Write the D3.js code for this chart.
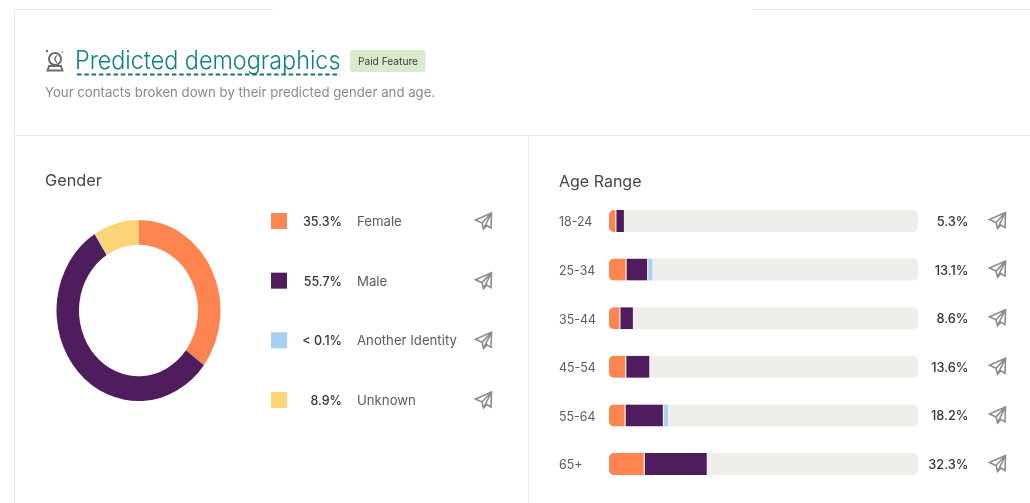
<!DOCTYPE html>
<html>
<head>
<meta charset="utf-8">
<script src="https://cdnjs.cloudflare.com/ajax/libs/d3/7.8.5/d3.min.js"></script>
<style>
  html, body { margin: 0; padding: 0; background: #fff; }
  svg { display: block; filter: blur(0.35px); }
  text { font-family: Inter, "Open Sans", sans-serif; }
</style>
</head>
<body>
<div id="chart"></div>
<script>
var genders = ["Female", "Male", "Another Identity", "Unknown"];
var genderLabels = ["35.3%", "55.7%", "< 0.1%", "8.9%"];
var genderValues = [35.3, 55.7, 0.1, 8.9];

var ages = ["18-24", "25-34", "35-44", "45-54", "55-64", "65+"];
var ageLabels = ["5.3%", "13.1%", "8.6%", "13.6%", "18.2%", "32.3%"];
var ageFemale = [2.0, 5.3, 3.3, 5.2, 5.0, 11.2];
var ageMale = [2.4, 6.6, 4.0, 7.4, 12.0, 20.0];
var ageOther = [0, 1.2, 0, 0, 1.2, 0];

var COLORS = ["#ff8450", "#4f1c5e", "#a5cff3", "#fbd477"];
var TEXT = "#4a4545";
var GRAY = "#8d8986";
var LINE = "#ebebe9";
var PLANE = "M0,-7 L-16,0 L-9.5,3 L-8,9 L-4.5,5.5 L-0.5,8 Z M0,-7 L-9.5,3 M0,-7 L-8,9";

var svg = d3.select("#chart").append("svg")
  .attr("width", 1030)
  .attr("height", 503);

// card outline
function rule(x1, y1, x2, y2) {
  svg.append("line")
    .attr("x1", x1).attr("y1", y1).attr("x2", x2).attr("y2", y2)
    .attr("stroke", LINE).attr("stroke-width", 1);
}
rule(15, 9.5, 273, 9.5);
rule(752, 9.5, 1030, 9.5);
rule(14.5, 9, 14.5, 503);
rule(15, 135.5, 1030, 135.5);
rule(528.5, 135, 528.5, 503);

// header
var icon = svg.append("g")
  .attr("fill", "none")
  .attr("stroke", "#6f6a66");
icon.append("circle").attr("cx", 55).attr("cy", 59).attr("r", 6).attr("stroke-width", 2);
icon.append("path").attr("d", "M57,55.5 A4,4 0 0 0 57,62.5").attr("stroke-width", 1.4);
icon.append("path").attr("d", "M49,66 L61,66 L62.5,70.5 L47.5,70.5 Z").attr("stroke-width", 1.8);
icon.append("circle").attr("cx", 47).attr("cy", 51).attr("r", 1.2).attr("fill", "#6f6a66").attr("stroke", "none");
icon.append("circle").attr("cx", 62.5).attr("cy", 52).attr("r", 0.8).attr("fill", "#6f6a66").attr("stroke", "none");

svg.append("text")
  .attr("transform", "translate(75,69) scale(1,1.1)")
  .attr("font-size", 23.4)
  .attr("font-weight", 300)
  .attr("fill", "#0f8089")
  .text("Predicted demographics");
svg.append("line")
  .attr("x1", 77).attr("y1", 74.5).attr("x2", 340).attr("y2", 74.5)
  .attr("stroke", "#1e6f7c").attr("stroke-width", 2)
  .attr("stroke-dasharray", "4.5 2.8");

svg.append("rect")
  .attr("x", 350).attr("y", 50)
  .attr("width", 75.5).attr("height", 22)
  .attr("rx", 3)
  .attr("fill", "#d9ebcd");
svg.append("text")
  .attr("x", 388).attr("y", 65)
  .attr("text-anchor", "middle")
  .attr("font-size", 10.2)
  .attr("fill", "#3f3d38")
  .text("Paid Feature");

svg.append("text")
  .attr("x", 45).attr("y", 96.5)
  .attr("font-size", 13.2)
  .attr("fill", GRAY)
  .text("Your contacts broken down by their predicted gender and age.");

svg.append("text")
  .attr("x", 45).attr("y", 186)
  .attr("font-size", 16.3)
  .attr("fill", TEXT)
  .text("Gender");
svg.append("text")
  .attr("x", 559).attr("y", 186.5)
  .attr("font-size", 16)
  .attr("fill", TEXT)
  .text("Age Range");

// donut, the reference is stretched vertically
var pie = d3.pie().sort(null).value(function(d) { return d; });
var arc = d3.arc().innerRadius(59.5).outerRadius(82);

svg.append("g")
  .attr("transform", "translate(138.5,310.5) scale(1,1.105)")
  .selectAll("path")
  .data(pie(genderValues))
  .enter().append("path")
  .attr("d", arc)
  .attr("fill", function(d, i) { return COLORS[i]; });

// gender legend
var legendY = d3.scalePoint().domain(genders).range([221, 400]);

var legend = svg.append("g").selectAll("g")
  .data(genders)
  .enter().append("g")
  .attr("transform", function(d) { return "translate(0," + legendY(d) + ")"; });

legend.append("rect")
  .attr("x", 271).attr("y", -8)
  .attr("width", 16).attr("height", 16)
  .attr("fill", function(d, i) { return COLORS[i]; });
legend.append("text")
  .attr("x", 342).attr("y", 5)
  .attr("text-anchor", "end")
  .attr("font-size", 12.5)
  .attr("font-weight", 500)
  .attr("fill", "#3a3636")
  .text(function(d, i) { return genderLabels[i]; });
legend.append("text")
  .attr("x", 357).attr("y", 5)
  .attr("font-size", 13.2)
  .attr("fill", "#5f5b59")
  .text(function(d) { return d; });
legend.append("path")
  .attr("transform", "translate(491.5,-1)")
  .attr("d", PLANE)
  .attr("fill", "none").attr("stroke", "#8f8c8a").attr("stroke-width", 1.6);

// age bars
var x = d3.scaleLinear().domain([0, 100]).range([609, 918]);
var y = d3.scalePoint().domain(ages).range([221, 464]);
var BAR_H = 22;
var GAP = 1.3;

var yAxis = d3.axisLeft(y).tickSize(0).tickPadding(0);
var axisG = svg.append("g")
  .attr("transform", "translate(559,1)")
  .call(yAxis);
axisG.select(".domain").remove();
axisG.selectAll("text")
  .attr("text-anchor", "start")
  .attr("font-size", 12.4)
  .attr("font-family", "Inter, sans-serif")
  .attr("fill", "#5f5b59");

var defs = svg.append("defs");
ages.forEach(function(a, i) {
  defs.append("clipPath")
    .attr("id", "track" + i)
    .append("rect")
    .attr("x", x(0)).attr("y", y(a) - BAR_H / 2)
    .attr("width", x(100) - x(0)).attr("height", BAR_H)
    .attr("rx", 5);
});

var rows = svg.append("g").selectAll("g")
  .data(ages)
  .enter().append("g");

rows.append("rect")
  .attr("x", x(0))
  .attr("y", function(d) { return y(d) - BAR_H / 2; })
  .attr("width", x(100) - x(0))
  .attr("height", BAR_H)
  .attr("rx", 5)
  .attr("fill", "#efeeea");

rows.each(function(a, i) {
  var vals = [ageFemale[i], ageMale[i], ageOther[i]];
  var sum = 0;
  var g = d3.select(this).append("g").attr("clip-path", "url(#track" + i + ")");
  vals.forEach(function(v, k) {
    if (v > 0) {
      g.append("rect")
        .attr("x", x(sum) + k * GAP)
        .attr("y", y(a) - BAR_H / 2)
        .attr("width", x(v) - x(0))
        .attr("height", BAR_H)
        .attr("fill", COLORS[k]);
    }
    sum += v;
  });
});

rows.append("text")
  .attr("x", 968.5)
  .attr("y", function(d) { return y(d) + 5; })
  .attr("text-anchor", "end")
  .attr("font-size", 12.8)
  .attr("font-weight", 500)
  .attr("fill", "#3a3636")
  .text(function(d, i) { return ageLabels[i]; });

rows.append("path")
  .attr("transform", function(d) { return "translate(1005.5," + (y(d) - 1.5) + ")"; })
  .attr("d", PLANE)
  .attr("fill", "none").attr("stroke", "#8f8c8a").attr("stroke-width", 1.6);
</script>
</body>
</html>
